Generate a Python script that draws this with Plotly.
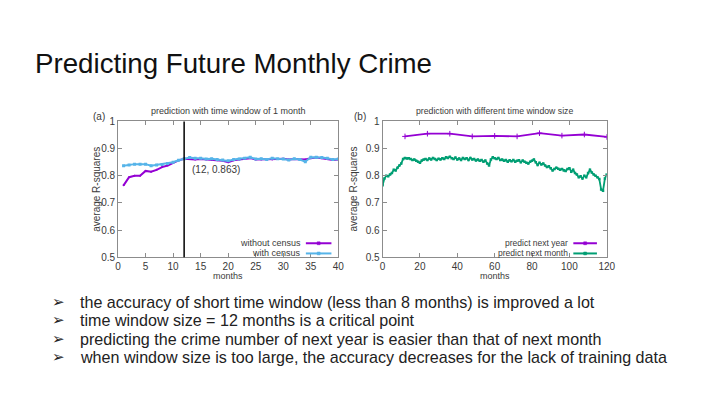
import plotly.graph_objects as go

# ---------------- data ----------------
months_a = list(range(1, 41))
without_census = [0.765, 0.795, 0.800, 0.800, 0.818, 0.815, 0.822, 0.832, 0.838, 0.848,
                  0.857, 0.863, 0.862, 0.860, 0.862, 0.860, 0.858, 0.857, 0.855, 0.850,
                  0.857, 0.860, 0.862, 0.865, 0.860, 0.860, 0.862, 0.860, 0.862, 0.863,
                  0.860, 0.862, 0.860, 0.860, 0.865, 0.867, 0.865, 0.862, 0.858, 0.860]
with_census = [0.837, 0.840, 0.843, 0.843, 0.843, 0.837, 0.840, 0.842, 0.845, 0.850,
               0.857, 0.863, 0.867, 0.865, 0.865, 0.862, 0.863, 0.860, 0.858, 0.855,
               0.860, 0.862, 0.865, 0.868, 0.862, 0.863, 0.860, 0.865, 0.863, 0.862,
               0.858, 0.863, 0.860, 0.852, 0.868, 0.868, 0.867, 0.865, 0.860, 0.862]

months_year = [12, 24, 36, 48, 60, 72, 84, 96, 108, 120]
next_year = [0.945, 0.955, 0.955, 0.945, 0.947, 0.945, 0.957, 0.948, 0.952, 0.943]

months_b = list(range(0, 121))
next_month = [0.765, 0.790, 0.800, 0.798, 0.805, 0.810, 0.822, 0.820, 0.830, 0.838, 0.845, 0.862,
              0.866, 0.864, 0.865, 0.862, 0.858, 0.860, 0.855, 0.852, 0.848, 0.856, 0.860, 0.862,
              0.858, 0.864, 0.860, 0.866, 0.862, 0.858, 0.863, 0.860, 0.865, 0.862, 0.868, 0.866,
              0.870, 0.865, 0.862, 0.867, 0.860, 0.864, 0.858, 0.866, 0.862, 0.865, 0.858, 0.866,
              0.860, 0.862, 0.856, 0.860, 0.855, 0.858, 0.852, 0.856, 0.845, 0.838, 0.860, 0.868,
              0.865, 0.862, 0.866, 0.858, 0.860, 0.855, 0.858, 0.852, 0.857, 0.854, 0.858, 0.852,
              0.855, 0.857, 0.850, 0.856, 0.852, 0.848, 0.845, 0.852, 0.855, 0.860, 0.850, 0.840,
              0.848, 0.842, 0.845, 0.838, 0.832, 0.835, 0.828, 0.820, 0.825, 0.830, 0.826, 0.822,
              0.825, 0.820, 0.818, 0.825, 0.828, 0.815, 0.822, 0.810, 0.805, 0.795, 0.798, 0.790,
              0.800, 0.795, 0.810, 0.822, 0.812, 0.805, 0.800, 0.795, 0.788, 0.750, 0.745, 0.790,
              0.805]

y_ticks = [0.5, 0.6, 0.7, 0.8, 0.9, 1.0]
y_tick_text = ["0.5", "0.6", "0.7", "0.8", "0.9", "1"]
x_ticks_a = [0, 5, 10, 15, 20, 25, 30, 35, 40]
x_ticks_b = [0, 20, 40, 60, 80, 100, 120]

critical_month = 12
critical_label = "(12, 0.863)"

slide_title = "Predicting Future Monthly Crime"
bullets = [
    "the accuracy of short time window (less than 8 months) is improved a lot",
    "time window size = 12 months is a critical point",
    "predicting the crime number of next year is easier than that of next month",
    "when window size is too large, the accuracy decreases for the lack of training data",
]

# ---------------- styling ----------------
PURPLE = "#9400d3"
SKY = "#56b4e9"
GREEN = "#009e73"
FRAME = "#8c8c8c"
TXT = "#3a3a3a"
FONT = "Liberation Sans, Arial, sans-serif"

W, H = 720, 405
def px(x):
    return x / W
def py(y):
    return 1 - y / H

fig = go.Figure()

fig.add_trace(go.Scatter(x=months_a, y=without_census, mode="lines+markers",
                         line=dict(color=PURPLE, width=2), marker=dict(size=2, color=PURPLE),
                         xaxis="x", yaxis="y", showlegend=False))
fig.add_trace(go.Scatter(x=months_a, y=with_census, mode="lines+markers",
                         line=dict(color=SKY, width=2), marker=dict(size=3, color=SKY, symbol="square"),
                         xaxis="x", yaxis="y", showlegend=False))
fig.add_trace(go.Scatter(x=months_year, y=next_year, mode="lines+markers",
                         line=dict(color=PURPLE, width=1.8), marker=dict(size=4, color=PURPLE, symbol="cross-thin",
                                                                          line=dict(color=PURPLE, width=1)),
                         xaxis="x2", yaxis="y2", showlegend=False))
fig.add_trace(go.Scatter(x=months_b, y=next_month, mode="lines+markers",
                         line=dict(color=GREEN, width=1.8), marker=dict(size=2.5, color=GREEN, symbol="square"),
                         xaxis="x2", yaxis="y2", showlegend=False))

axis_common = dict(showline=True, mirror="ticks", linecolor=FRAME, linewidth=1,
                   ticks="inside", ticklen=4, tickcolor=FRAME, showgrid=False, zeroline=False,
                   tickfont=dict(family=FONT, size=10, color=TXT))

ydom = [py(259), py(119)]
fig.update_layout(
    width=W, height=H, margin=dict(l=0, r=0, t=0, b=0),
    paper_bgcolor="white", plot_bgcolor="white", showlegend=False,
    xaxis=dict(domain=[px(117), px(341)], range=[0, 40], tickvals=x_ticks_a, anchor="y", **axis_common),
    yaxis=dict(domain=ydom, range=[0.5, 1.0], tickvals=y_ticks, ticktext=y_tick_text, anchor="x", **axis_common),
    xaxis2=dict(domain=[px(386), px(614)], range=[0, 120], tickvals=x_ticks_b, anchor="y2", **axis_common),
    yaxis2=dict(domain=ydom, range=[0.5, 1.0], tickvals=y_ticks, ticktext=y_tick_text, anchor="x2", **axis_common),
)

shapes = [dict(type="line", xref="x", yref="y domain", x0=critical_month, x1=critical_month, y0=0, y1=1,
               line=dict(color="black", width=1.5))]

annotations = [
    dict(text=slide_title, x=px(30), y=py(59), xref="paper", yref="paper", xanchor="left", yanchor="middle",
         showarrow=False, font=dict(family=FONT, size=27.7, color="#111111")),
    dict(text=critical_label, x=13, y=0.822, xref="x", yref="y", xanchor="left", yanchor="middle",
         showarrow=False, font=dict(family=FONT, size=10, color=TXT)),
]

# chart titles / labels
for xc, title, tsize, tag, tagx, ytitle_x in [
        ((117 + 341) / 2, "prediction with time window of 1 month", 9, "(a)", 98, 95),
        ((386 + 614) / 2, "prediction with different time window size", 8.7, "(b)", 363, 356)]:
    annotations.append(dict(text=title, x=px(xc), y=py(108), xref="paper", yref="paper", xanchor="center",
                            yanchor="middle", showarrow=False, font=dict(family=FONT, size=tsize, color=TXT)))
    annotations.append(dict(text=tag, x=px(tagx), y=py(114), xref="paper", yref="paper", xanchor="center",
                            yanchor="middle", showarrow=False, font=dict(family=FONT, size=10, color=TXT)))
    annotations.append(dict(text="average R-squares", x=px(ytitle_x), y=py(189), xref="paper", yref="paper",
                            xanchor="center", yanchor="middle", textangle=-90, showarrow=False,
                            font=dict(family=FONT, size=10, color=TXT)))
    annotations.append(dict(text="months", x=px(xc), y=py(278.5), xref="paper", yref="paper", xanchor="center",
                            yanchor="middle", showarrow=False, font=dict(family=FONT, size=9, color=TXT)))

# legends (gnuplot style: text then sample)
legend_rows = [
    (["without census", "with census"], [PURPLE, SKY], 9, 305, 308, 334),
    (["predict next year", "predict next month"], [PURPLE, GREEN], 8.5, 577, 580, 604),
]
for names, colors, fsize, tx, lx0, lx1 in legend_rows:
    for i, (nm, col) in enumerate(zip(names, colors)):
        yy = 244.5 + 10.5 * i
        annotations.append(dict(text=nm, x=px(tx), y=py(yy), xref="paper", yref="paper", xanchor="right",
                                yanchor="middle", showarrow=False, font=dict(family=FONT, size=fsize, color=TXT)))
        shapes.append(dict(type="line", xref="paper", yref="paper", x0=px(lx0), x1=px(lx1), y0=py(yy), y1=py(yy),
                           line=dict(color=col, width=2)))
        shapes.append(dict(type="rect", xref="paper", yref="paper", x0=px((lx0 + lx1) / 2 - 1.5),
                           x1=px((lx0 + lx1) / 2 + 1.5), y0=py(yy - 1.5), y1=py(yy + 1.5),
                           line=dict(color=col, width=0.5), fillcolor=col))

# bullets
for i, b in enumerate(bullets):
    yy = 305 + 19 * i
    annotations.append(dict(text="\u27a2", x=px(48), y=py(yy), xref="paper", yref="paper", xanchor="left",
                            yanchor="middle", showarrow=False, font=dict(family="DejaVu Sans", size=15, color="#222222")))
    annotations.append(dict(text=b, x=px(76), y=py(yy), xref="paper", yref="paper", xanchor="left",
                            yanchor="middle", showarrow=False, font=dict(family=FONT, size=16.1, color="#222222")))

fig.update_layout(shapes=shapes, annotations=annotations)
fig.write_html("out.html", config={"displayModeBar": False},
               post_script="document.body.style.margin='0';document.body.style.overflow='hidden';")
